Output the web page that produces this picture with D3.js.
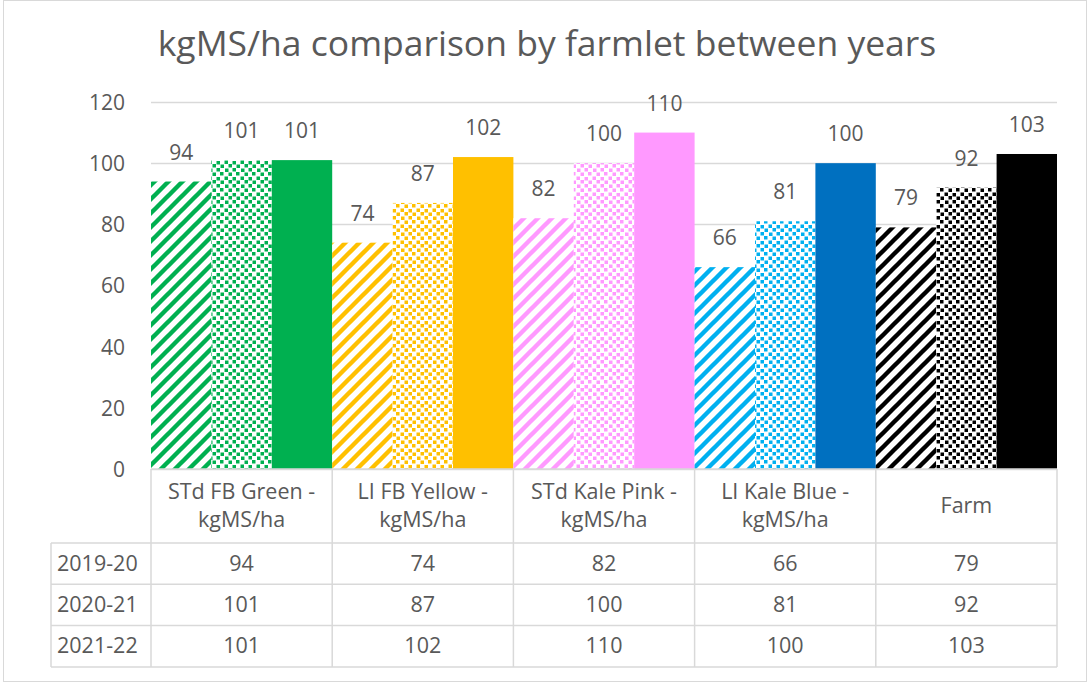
<!DOCTYPE html>
<html>
<head>
<meta charset="utf-8">
<script src="https://cdn.jsdelivr.net/npm/d3@7"></script>
<style>
  html, body { margin: 0; padding: 0; background: #fff; }
  svg { display: block; font-family: "Open Sans", "Noto Sans", sans-serif; }
  text { fill: #595959; }
</style>
</head>
<body>
<svg id="chart" width="1089" height="686"></svg>
<script>
// Farmlets (x categories) and the three seasons compared
const categories = [
  "STd FB Green - kgMS/ha",
  "LI FB Yellow - kgMS/ha",
  "STd Kale Pink - kgMS/ha",
  "LI Kale Blue - kgMS/ha",
  "Farm"
];
const seasons = ["2019-20", "2020-21", "2021-22"];

// kgMS/ha per farmlet for each season
const values2019 = [94, 74, 82, 66, 79];
const values2020 = [101, 87, 100, 81, 92];
const values2021 = [101, 102, 110, 100, 103];
const seasonValues = [values2019, values2020, values2021];

const yTicks = [0, 20, 40, 60, 80, 100, 120];

// Farmlet colours: hatched/dotted tint and solid fill
const lightColors = ["#00B050", "#FFC000", "#FF99FF", "#00B0F0", "#000000"];
const solidColors = ["#00B050", "#FFC000", "#FF99FF", "#0070C0", "#000000"];

const plot = { left: 151, right: 1057, top: 102, bottom: 469 };
const table = { left: 51, headerBottom: 543, rowH: 41.3 };
const gridColor = "#D9D9D9";
const labelSize = "21.5px";

const svg = d3.select("#chart");
const defs = svg.append("defs");

// Fill patterns: wide upward diagonal stripes and staggered square dots
categories.forEach((c, i) => {
  const col = lightColors[i];
  const hatch = defs.append("pattern")
    .attr("id", "hatch" + i)
    .attr("patternUnits", "userSpaceOnUse")
    .attr("width", 14).attr("height", 14);
  hatch.append("rect").attr("width", 14).attr("height", 14).attr("fill", "#fff");
  hatch.append("path")
    .attr("d", "M-2,16 L16,-2 M-9,9 L9,-9 M5,23 L23,5")
    .attr("stroke", col).attr("stroke-width", 4.4).attr("fill", "none");

  const dots = defs.append("pattern")
    .attr("id", "dots" + i)
    .attr("patternUnits", "userSpaceOnUse")
    .attr("width", 16).attr("height", 16);
  dots.append("rect").attr("width", 16).attr("height", 16).attr("fill", "#fff");
  [[0.5, 0.5], [8.5, 1], [4.5, 4], [12.5, 4.5], [1, 8.5], [8.5, 8], [4.5, 12.5], [12, 12]].forEach(p => {
    dots.append("rect").attr("x", p[0]).attr("y", p[1])
      .attr("width", 3.5).attr("height", 3.5).attr("fill", col);
  });
});

// Outer chart frame
svg.append("rect")
  .attr("x", 3.5).attr("y", 0.5).attr("width", 1083).attr("height", 681)
  .attr("fill", "none").attr("stroke", gridColor).attr("stroke-width", 1);

// Title
svg.append("text")
  .attr("x", 547).attr("y", 56)
  .attr("text-anchor", "middle")
  .style("font-size", "35.5px")
  .text("kgMS/ha comparison by farmlet between years");

// Scales
const x0 = d3.scaleBand().domain(categories).range([plot.left, plot.right]).padding(0);
const x1 = d3.scaleBand().domain(seasons).range([0, x0.bandwidth()]).padding(0);
const y = d3.scaleLinear().domain([0, 120]).range([plot.bottom, plot.top]);

// Horizontal gridlines
svg.append("g").selectAll("line").data(yTicks).join("line")
  .attr("x1", plot.left).attr("x2", plot.right)
  .attr("y1", d => Math.round(y(d)) + 0.5).attr("y2", d => Math.round(y(d)) + 0.5)
  .attr("stroke", gridColor).attr("stroke-width", 1.3);

// Y axis labels
const yAxis = d3.axisLeft(y).tickValues(yTicks).tickSize(0).tickPadding(0);
svg.append("g")
  .attr("transform", "translate(125,0)")
  .call(yAxis)
  .call(g => g.select(".domain").remove())
  .call(g => g.selectAll("text")
    .style("font-size", "21px").style("font-family", "'Open Sans', sans-serif")
    .attr("fill", "#595959").attr("dy", "0.35em"));

// Bars
const barData = [];
categories.forEach((c, i) => {
  seasons.forEach((s, j) => {
    barData.push({ cat: c, ci: i, season: s, sj: j, value: seasonValues[j][i] });
  });
});

const fillFor = d => d.sj === 0 ? `url(#hatch${d.ci})` : d.sj === 1 ? `url(#dots${d.ci})` : solidColors[d.ci];

svg.append("g").selectAll("rect").data(barData).join("rect")
  .attr("x", d => x0(d.cat) + x1(d.season))
  .attr("y", d => y(d.value))
  .attr("width", x1.bandwidth())
  .attr("height", d => y(0) - y(d.value))
  .attr("fill", fillFor);

// Value labels above bars
svg.append("g").selectAll("text").data(barData).join("text")
  .attr("x", d => x0(d.cat) + x1(d.season) + x1.bandwidth() / 2)
  .attr("y", d => y(d.value) - 22)
  .attr("text-anchor", "middle")
  .style("font-size", "21px")
  .text(d => d.value);

// Data table grid
const tg = svg.append("g").attr("stroke", gridColor).attr("stroke-width", 1.5);
const rowY = seasons.map((s, j) => table.headerBottom + j * table.rowH);
const tableBottom = table.headerBottom + seasons.length * table.rowH;
tg.append("line")
  .attr("x1", plot.left).attr("x2", plot.right).attr("y1", plot.bottom).attr("y2", plot.bottom);
rowY.concat([tableBottom]).forEach(yy => tg.append("line")
  .attr("x1", table.left).attr("x2", plot.right).attr("y1", yy).attr("y2", yy));
tg.append("line").attr("x1", table.left).attr("x2", table.left)
  .attr("y1", table.headerBottom).attr("y2", tableBottom);
categories.forEach(c => tg.append("line")
  .attr("x1", x0(c)).attr("x2", x0(c)).attr("y1", plot.bottom).attr("y2", tableBottom));
tg.append("line").attr("x1", plot.right).attr("x2", plot.right)
  .attr("y1", plot.bottom).attr("y2", tableBottom);

// Category headers (wrapped after the dash)
const header = svg.append("g").selectAll("text").data(categories).join("text")
  .attr("text-anchor", "middle")
  .style("font-size", labelSize)
  .attr("x", d => x0(d) + x0.bandwidth() / 2);
header.each(function (d) {
  const parts = d.includes(" - ") ? [d.split(" - ")[0] + " -", d.split(" - ")[1]] : [d];
  const t = d3.select(this);
  const mid = (plot.bottom + table.headerBottom) / 2;
  const lh = 28;
  const first = mid + 7 - (parts.length - 1) * lh / 2;
  parts.forEach((p, k) => t.append("tspan")
    .attr("x", x0(d) + x0.bandwidth() / 2)
    .attr("y", first + k * lh)
    .text(p));
});

// Table rows: season label + values
seasons.forEach((s, j) => {
  const cy = rowY[j] + table.rowH / 2 + 7;
  svg.append("text").attr("x", 57).attr("y", cy)
    .style("font-size", labelSize).text(s);
  svg.append("g").selectAll("text").data(categories).join("text")
    .attr("x", d => x0(d) + x0.bandwidth() / 2)
    .attr("y", cy)
    .attr("text-anchor", "middle")
    .style("font-size", labelSize)
    .text((d, i) => seasonValues[j][i]);
});
</script>
</body>
</html>
